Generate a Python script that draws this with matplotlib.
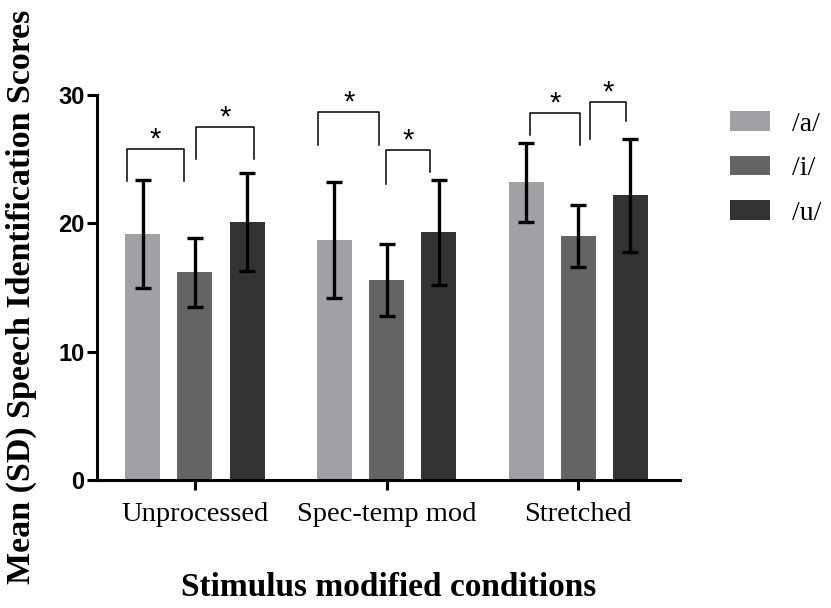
import numpy as np
import matplotlib
matplotlib.use("Agg")
import matplotlib.pyplot as plt
from matplotlib.patches import Patch

# data
conditions = ["Unprocessed", "Spec-temp mod", "Stretched"]
vowels = ["/a/", "/i/", "/u/"]
mean_a = [19.2, 18.7, 23.2]
mean_i = [16.2, 15.6, 19.0]
mean_u = [20.1, 19.3, 22.2]
sd_a = [4.2, 4.5, 3.1]
sd_i = [2.7, 2.8, 2.4]
sd_u = [3.8, 4.1, 4.4]
colors = ["#a1a1a5", "#646464", "#333333"]

# significance brackets: (group, x_left, x_right, top, left leg end, right leg end)
# x positions are relative to the group centre
brackets = [
    (0, -0.356, -0.058, 25.8, 23.3, 23.3),
    (0, 0.005, 0.309, 27.5, 25.0, 25.0),
    (1, -0.356, -0.037, 28.65, 26.1, 26.1),
    (1, -0.005, 0.229, 25.7, 23.1, 24.0),
    (2, -0.251, 0.010, 28.6, 26.9, 26.1),
    (2, 0.063, 0.251, 29.45, 26.55, 28.0),
]

serif = "Liberation Serif"
sans = "Liberation Sans"

fig = plt.figure(figsize=(8.31, 6.08), dpi=100)
ax = fig.add_axes([0.117, 0.2105, 0.701, 0.633])

x = np.arange(len(conditions))
offset = 0.272
width = 0.183
means = [mean_a, mean_i, mean_u]
sds = [sd_a, sd_i, sd_u]
for k in range(3):
    ax.bar(x + (k - 1) * offset, means[k], width, color=colors[k], zorder=2)
    ax.errorbar(x + (k - 1) * offset, means[k], yerr=sds[k], fmt="none",
                ecolor="black", elinewidth=2.4, capsize=6, capthick=2.4, zorder=3)

for g, xl, xr, top, ll, rl in brackets:
    xa = x[g] + xl
    xb = x[g] + xr
    ax.plot([xa, xa, xb, xb], [ll, top, top, rl], color="black", lw=1.1,
            clip_on=False, zorder=4)
    ax.text((xa + xb) / 2, top + 0.75, "*", ha="center", va="center",
            fontsize=21, fontfamily=sans, clip_on=False)

ax.set_xlim(-0.51, 2.53)
ax.set_ylim(0, 30)
ax.set_yticks([0, 10, 20, 30])
ax.set_xticks(x)
ax.set_xticklabels(conditions, fontfamily=serif, fontsize=20.5)
for lab in ax.get_yticklabels():
    lab.set_fontfamily(sans)
    lab.set_fontweight("bold")
    lab.set_fontsize(17)

for s in ["top", "right"]:
    ax.spines[s].set_visible(False)
for s in ["left", "bottom"]:
    ax.spines[s].set_linewidth(2.2)
ax.tick_params(axis="both", width=2.2, length=7, direction="out")
ax.tick_params(axis="x", pad=9)
ax.tick_params(axis="y", pad=2)

ax.set_xlabel("Stimulus modified conditions", fontfamily=serif, fontweight="bold",
              fontsize=24, labelpad=32)
fig.text(0.026, 0.511, "Mean (SD) Speech Identification Scores", rotation=90,
         ha="center", va="center", fontfamily=serif, fontweight="bold", fontsize=24.5)

handles = [Patch(facecolor=c, edgecolor="none") for c in colors]
leg = fig.legend(handles, vowels, loc="upper left", bbox_to_anchor=(0.865, 0.835),
                 frameon=False, prop={"family": serif, "size": 20},
                 handlelength=1.45, handleheight=0.7, handletextpad=0.8,
                 labelspacing=0.68, borderaxespad=0)

fig.savefig("out.png", dpi=100)
